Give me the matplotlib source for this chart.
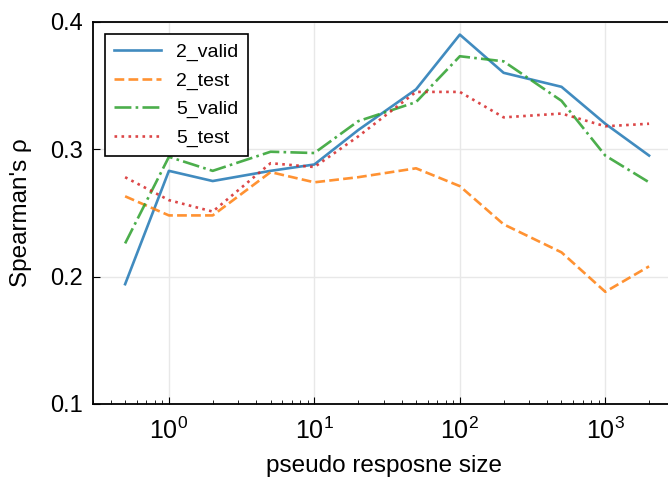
import numpy as np
import matplotlib
matplotlib.use('Agg')
import matplotlib.pyplot as plt

# Data

sizes = [0.5, 1, 2, 5, 10, 20, 50, 100, 200, 500, 1000, 2000]
valid_2 = [0.194, 0.283, 0.275, 0.283, 0.288, 0.315, 0.347, 0.390, 0.360, 0.349, 0.320, 0.295]
test_2 = [0.263, 0.248, 0.248, 0.282, 0.274, 0.278, 0.285, 0.271, 0.241, 0.219, 0.188, 0.208]
valid_5 = [0.226, 0.294, 0.283, 0.298, 0.297, 0.322, 0.337, 0.373, 0.369, 0.338, 0.295, 0.274]
test_5 = [0.278, 0.260, 0.251, 0.289, 0.286, 0.310, 0.345, 0.345, 0.325, 0.328, 0.318, 0.320]

names = ['2_valid', '2_test', '5_valid', '5_test']
styles = ['-', '--', '-.', ':']
colors = ['#1f77b4', '#ff7f0e', '#2ca02c', '#d62728']

plt.rcParams['font.family'] = ['Liberation Sans', 'DejaVu Sans']
plt.rcParams['mathtext.fontset'] = 'custom'
plt.rcParams['mathtext.rm'] = 'Liberation Sans'
plt.rcParams['mathtext.it'] = 'Liberation Sans:italic'

fig = plt.figure(figsize = (6.68, 4.86), dpi = 100)
ax = fig.add_axes([0.139, 0.169, 0.871, 0.786])

series = [valid_2, test_2, valid_5, test_5]
for vals, name, ls, c in zip(series, names, styles, colors):
    ax.plot(sizes, vals, ls, color = c, label = name, linewidth = 1.9, alpha = 0.85)

ax.set_xscale('log')
ax.set_xlim(0.3, 3000)
ax.set_ylim(0.1, 0.4)
ax.set_yticks([0.1, 0.2, 0.3, 0.4])
ax.grid(True, color = '#e8e8e8', linewidth = 1)
ax.set_axisbelow(True)
ax.tick_params(which = 'both', direction = 'in')
ax.tick_params(axis = 'y', labelsize = 17, pad = 7)
ax.tick_params(axis = 'x', labelsize = 18, pad = 10)
ax.tick_params(which = 'major', length = 5)
ax.tick_params(which = 'minor', length = 3)
for s in ax.spines.values():
    s.set_linewidth(1.3)

ax.set_xlabel('pseudo resposne size', fontsize = 17.5)
ax.set_ylabel("Spearman's ρ", fontsize = 17.5)
ax.xaxis.set_label_coords(0.5, -0.134)
ax.yaxis.set_label_coords(-0.104, 0.5)

lgd = ax.legend(loc = 'upper left', fontsize = 14, fancybox = False, framealpha = 1,
                edgecolor = 'black', handlelength = 2.4, handletextpad = 0.8,
                borderpad = 0.5, labelspacing = 0.55, borderaxespad = 0.6)
lgd.get_frame().set_linewidth(1.2)

plt.savefig('out.png', dpi = 100)
